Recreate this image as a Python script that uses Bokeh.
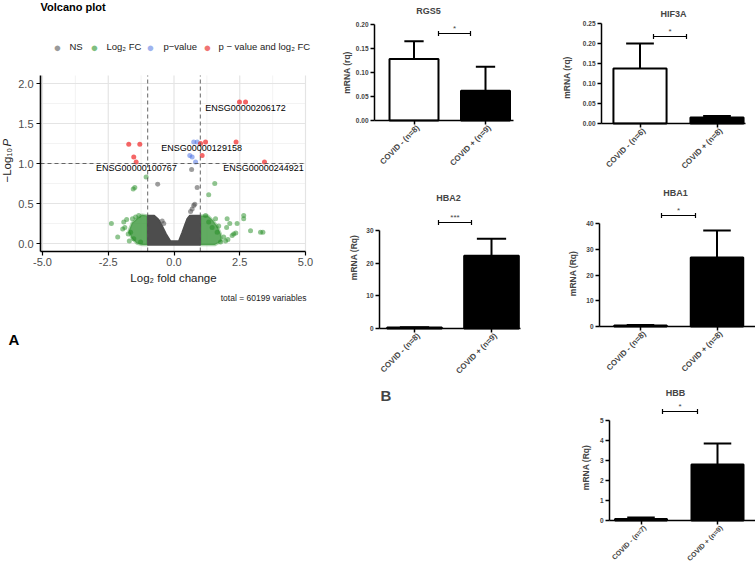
import math
from bokeh.plotting import figure
from bokeh.models import Range1d, FixedTicker, Label, NumeralTickFormatter, ColumnDataSource
from bokeh.layouts import row, column
from bokeh.embed import file_html
from bokeh.resources import INLINE

FONT = "Liberation Sans"

# ---------------- Volcano data (log2 fold change, -log10 P) ----------------
ns_x = [0.67, -0.62, 0.88, 0.79, 0.69, 0.63, 0.75, -0.39, -0.45]
ns_y = [0.925, 0.74, 0.70, 0.49, 0.43, 0.40, 0.475, 0.25, 0.28]
# outline of the dense cloud of non-significant genes
ns_dense_x = [-1.0, -1.0, -0.75, -0.58, -0.45, -0.30, -0.13, 0.18, 0.30, 0.42, 0.50, 0.60, 1.0, 1.0]
ns_dense_y = [-0.02, 0.35, 0.35, 0.30, 0.22, 0.12, 0.03, 0.03, 0.13, 0.24, 0.31, 0.35, 0.35, -0.02]

fc_x = [-2.38, -2.14, -1.91, -1.87, -1.74, -1.65, -1.53, -1.46, -1.34, -1.80, -1.95, -1.70, -1.58,
        -1.06, -1.55, -1.49, -1.27,
        1.55, 1.32, 1.20, 1.58, 2.02, 2.65, 2.65, 2.40, 2.12, 2.91, 3.29, 3.38, 2.27, 2.21, 1.89,
        1.77, 1.96, 1.45, 1.64, 1.32, 2.35, 2.05, 1.70, 2.00]
fc_y = [0.25, 0.08, 0.27, 0.20, 0.12, 0.14, 0.06, 0.33, 0.35, 0.30, 0.18, 0.03, 0.31,
        0.83, 0.68, 0.70, 0.02,
        0.75, 0.61, 0.35, 0.31, 0.31, 0.35, 0.31, 0.25, 0.25, 0.16, 0.14, 0.14, 0.12, 0.10, 0.08,
        0.02, 0.03, 0.20, 0.14, 0.27, 0.13, 0.05, 0.22, 0.20]
fc_dense_left_x = [-1.0, -1.0, -1.22, -1.38, -1.60, -1.72, -1.62, -1.42, -1.20]
fc_dense_left_y = [-0.02, 0.35, 0.36, 0.32, 0.26, 0.16, 0.07, 0.00, -0.02]
fc_dense_right_x = [1.0, 1.0, 1.28, 1.48, 1.66, 1.78, 1.82, 1.55]
fc_dense_right_y = [-0.02, 0.35, 0.35, 0.29, 0.21, 0.12, 0.03, -0.02]

p_x = [0.75, 0.88, 0.60, 0.69, 0.82]
p_y = [1.27, 1.27, 1.10, 1.08, 1.02]

both_x = [2.49, 2.72, -1.72, -1.30, -1.53, -1.44, 1.01, 1.20, 2.36, 1.07, 3.44]
both_y = [1.77, 1.77, 1.24, 1.24, 1.08, 1.02, 1.25, 1.27, 1.27, 1.10, 1.02]

gene_names = ["ENSG00000206172", "ENSG00000129158", "ENSG00000100767", "ENSG00000244921"]
gene_label_x = [2.72, 1.05, -1.43, 3.40]
gene_label_y = [1.69, 1.19, 0.94, 0.94]

volcano_x_ticks = [-5.0, -2.5, 0.0, 2.5, 5.0]
volcano_x_minor = [-3.75, -1.25, 1.25, 3.75]
volcano_y_ticks = [0.0, 0.5, 1.0, 1.5, 2.0]
volcano_y_minor = [0.25, 0.75, 1.25, 1.75]
fc_cutoff = 1.0
p_cutoff = 1.0
total_text = "total = 60199 variables"

# ---------------- Bar chart data ----------------
rgs5_cats = ["COVID - (n=8)", "COVID + (n=9)"]
rgs5_mean = [0.128, 0.062]
rgs5_sem = [0.037, 0.050]
rgs5_ticks = [0.0, 0.05, 0.10, 0.15, 0.20]

hif3a_cats = ["COVID - (n=6)", "COVID + (n=8)"]
hif3a_mean = [0.1375, 0.015]
hif3a_sem = [0.0625, 0.004]
hif3a_ticks = [0.0, 0.05, 0.10, 0.15, 0.20, 0.25]

hba2_cats = ["COVID - (n=8)", "COVID + (n=9)"]
hba2_mean = [0.3, 22.3]
hba2_sem = [0.1, 5.2]
hba2_ticks = [0, 10, 20, 30]

hba1_cats = ["COVID - (n=8)", "COVID + (n=8)"]
hba1_mean = [0.4, 26.8]
hba1_sem = [0.2, 10.5]
hba1_ticks = [0, 10, 20, 30, 40]

hbb_cats = ["COVID - (n=7)", "COVID + (n=9)"]
hbb_mean = [0.08, 2.8]
hbb_sem = [0.07, 1.05]
hbb_ticks = [0, 1, 2, 3, 4, 5]

bar_fills = ["white", "black"]


def base_fig(L, T, W, H, tox, toy):
    """Figure whose frame fills the whole figure; tox/toy map page px -> data."""
    p = figure(frame_width=W, frame_height=H, min_border_left=0, min_border_right=0,
               min_border_top=0, min_border_bottom=0,
               x_range=Range1d(tox(L), tox(L + W)), y_range=Range1d(toy(T + H), toy(T)),
               toolbar_location=None, output_backend="svg", title=None)
    p.outline_line_color = None
    p.grid.grid_line_color = None
    p.background_fill_color = "white"
    p.border_fill_color = "white"
    return p


# ================= Volcano plot =================
VX0, VUX = 173.5, 26.3   # page px of x = 0, px per unit
VY0, VUY = 243.0, 80.0   # page px of y = 0, px per unit


def vx(px):
    return (px - VX0) / VUX


def vy(py):
    return (VY0 - py) / VUY


PL, PR, PT, PB = 40, 305, 75, 251   # panel edges (page px)
pv = base_fig(0, 0, 338, 360, vx, vy)

# panel grid (major + minor)
pv.segment(x0=volcano_x_minor, y0=[vy(PB)] * 4, x1=volcano_x_minor, y1=[vy(PT)] * 4,
           line_color="#f0f0f0", line_width=0.8)
pv.segment(x0=[vx(PL)] * 4, y0=volcano_y_minor, x1=[vx(PR)] * 4, y1=volcano_y_minor,
           line_color="#f0f0f0", line_width=0.8)
pv.segment(x0=volcano_x_ticks, y0=[vy(PB)] * 5, x1=volcano_x_ticks, y1=[vy(PT)] * 5,
           line_color="#e4e4e4", line_width=1.2)
pv.segment(x0=[vx(PL)] * 5, y0=volcano_y_ticks, x1=[vx(PR)] * 5, y1=volcano_y_ticks,
           line_color="#e4e4e4", line_width=1.2)

GREEN = "#228B22"
pv.patch(fc_dense_left_x, fc_dense_left_y, fill_color="#3a963a", fill_alpha=0.8,
         line_color="#3a963a", line_alpha=0.4, line_width=2.5)
pv.patch(fc_dense_right_x, fc_dense_right_y, fill_color="#3a963a", fill_alpha=0.8,
         line_color="#3a963a", line_alpha=0.4, line_width=2.5)
pv.patch(ns_dense_x, ns_dense_y, fill_color="#4d4d4d", line_color="#4d4d4d", line_width=1.5)
pv.scatter(fc_x, fc_y, size=5, fill_color=GREEN, fill_alpha=0.5, line_color=None)
pv.scatter(ns_x, ns_y, size=5, fill_color="#4d4d4d", fill_alpha=0.55, line_color=None)
pv.scatter(p_x, p_y, size=5, fill_color="#4169E1", fill_alpha=0.5, line_color=None)
pv.scatter(both_x, both_y, size=5, fill_color="#EE0000", fill_alpha=0.6, line_color=None)

# cut-off lines
pv.segment(x0=[-fc_cutoff, fc_cutoff], y0=[vy(PB)] * 2, x1=[-fc_cutoff, fc_cutoff], y1=[vy(PT)] * 2,
           line_color="#555555", line_dash="4 3", line_width=0.9)
pv.segment(x0=[vx(PL)], y0=[p_cutoff], x1=[vx(PR)], y1=[p_cutoff],
           line_color="#555555", line_dash="4 3", line_width=0.9)

# axes placed on the panel edges
xt = FixedTicker(ticks=volcano_x_ticks, minor_ticks=[])
yt = FixedTicker(ticks=volcano_y_ticks, minor_ticks=[])
pv.xaxis.ticker = xt
pv.yaxis.ticker = yt
pv.xaxis.fixed_location = vy(PB)
pv.yaxis.fixed_location = vx(PL)
pv.xaxis.bounds = (vx(PL), vx(PR))
pv.yaxis.bounds = (vy(PB), vy(PT))
for ax in (pv.xaxis[0], pv.yaxis[0]):
    ax.axis_line_color = "black"
    ax.axis_line_width = 1.6
    ax.major_tick_line_color = "black"
    ax.major_tick_line_width = 1.2
    ax.major_tick_out = 4
    ax.major_tick_in = 0
    ax.minor_tick_line_color = None
    ax.major_label_text_font = FONT
    ax.major_label_text_font_size = "11px"
    ax.major_label_text_color = "#4d4d4d"
    ax.formatter = NumeralTickFormatter(format="0.0")
pv.xaxis.major_label_standoff = 2
pv.yaxis.major_label_standoff = 3

for name, gxx, gyy in zip(gene_names, gene_label_x, gene_label_y):
    pv.add_layout(Label(x=gxx, y=gyy, text=name, text_font=FONT, text_font_size="9px",
                        text_align="center", text_baseline="middle", text_color="black"))


def vlabel(px, py, text, size, align="left", style="normal", color="black", angle=0.0):
    pv.add_layout(Label(x=vx(px), y=vy(py), text=text, text_font=FONT, text_font_size=size,
                        text_align=align, text_baseline="middle", text_color=color,
                        text_font_style=style, angle=angle))


vlabel(40, 6, "Volcano plot", "11px", style="bold")
legend_items = [("NS", "#9a9a9a", 57, 69), ("Log\u2082 FC", "#7fbf7f", 94, 106),
                ("p\u2212value", "#9fb3ee", 150, 163),
                ("p \u2212 value and log\u2082 FC", "#f07474", 207, 218)]
for txt, col, dxp, txp in legend_items:
    vlabel(dxp, 46.5, "\u25CF", "13px", align="center", color=col)
    vlabel(txp, 46, txt, "9.5px", color="#222222")
vlabel(6, 182, "\u2212Log\u2081\u2080", "11.5px", align="left", angle=math.pi / 2, color="#222222")
vlabel(6, 146, "P", "11.5px", align="left", style="italic", angle=math.pi / 2, color="#222222")
vlabel(173, 277, "Log\u2082 fold change", "11.5px", align="center", color="#222222")
vlabel(306, 297, total_text, "8.5px", align="right", color="#222222")
vlabel(8, 339, "A", "15px", style="bold")


# ================= Bar charts =================
def bar_chart(title, cats, means, sems, ticks, fmt, sig, ylab, g):
    ux, uy = g["ux"], g["uy"]

    def dx(px):
        return (px - g["cx0"]) / ux

    def dy(py):
        return (g["fb"] - py) / uy

    p = base_fig(g["L"], g["T"], g["W"], g["H"], dx, dy)

    xs = list(range(len(cats)))
    src = ColumnDataSource(dict(x=xs, top=means,
                                upper=[m + s for m, s in zip(means, sems)],
                                c0=[x - g["cap"] for x in xs], c1=[x + g["cap"] for x in xs],
                                fill=bar_fills[:len(cats)]))
    p.segment(x0="x", y0="top", x1="x", y1="upper", line_color="black", line_width=2, source=src)
    p.segment(x0="c0", y0="upper", x1="c1", y1="upper", line_color="black", line_width=2, source=src)
    p.vbar(x="x", top="top", bottom=0, width=g["bw"], fill_color="fill", line_color="black",
           line_width=2, source=src)

    # significance bracket
    bx0, bx1, by = g["br"]
    p.segment(x0=[dx(bx0)], y0=[dy(by)], x1=[dx(bx1)], y1=[dy(by)], line_color="black", line_width=1.2)
    p.segment(x0=[dx(bx0), dx(bx1)], y0=[dy(by + 2.5)] * 2, x1=[dx(bx0), dx(bx1)],
              y1=[dy(by - 2.5)] * 2, line_color="black", line_width=1.2)
    p.add_layout(Label(x=dx((bx0 + bx1) / 2), y=dy(by - 1), text=sig, text_font=FONT,
                       text_font_size="8px", text_align="center", text_baseline="bottom"))

    # axes drawn at the plot area's edges
    p.yaxis.ticker = FixedTicker(ticks=ticks, minor_ticks=[])
    p.yaxis.formatter = NumeralTickFormatter(format=fmt)
    p.yaxis.fixed_location = dx(g["axl"])
    p.yaxis.bounds = (ticks[0], ticks[-1])
    p.xaxis.ticker = FixedTicker(ticks=xs, minor_ticks=[])
    p.xaxis.fixed_location = 0
    p.xaxis.bounds = (dx(g["axl"]), dx(g["axr"]))
    p.xaxis.major_label_text_alpha = 0
    p.xaxis.major_label_text_font_size = "1px"
    for ax in (p.xaxis[0], p.yaxis[0]):
        ax.axis_line_color = "black"
        ax.axis_line_width = 1.5
        ax.major_tick_line_color = "black"
        ax.major_tick_line_width = 1.5
        ax.major_tick_out = 4
        ax.major_tick_in = 0
        ax.minor_tick_line_color = None
    p.yaxis.major_label_text_font = FONT
    p.yaxis.major_label_text_font_style = "bold"
    p.yaxis.major_label_text_font_size = "6.5px"
    p.yaxis.major_label_standoff = 2

    cat_size = g.get("cat_size", "8px")
    for i, c in zip(xs, cats):
        p.add_layout(Label(x=i + 4 / ux, y=dy(g["fb"] + 6), text=c, text_font=FONT,
                           text_font_style="bold", text_font_size=cat_size, text_align="right",
                           text_baseline="middle", angle=math.pi / 4))
    tx, ty = g["tpos"]
    p.add_layout(Label(x=dx(tx), y=dy(ty), text=title, text_font=FONT, text_font_style="bold",
                       text_font_size="9px", text_align="center", text_baseline="middle"))
    lx, ly = g["ypos"]
    p.add_layout(Label(x=dx(lx), y=dy(ly), text=ylab, text_font=FONT, text_font_style="bold",
                       text_font_size="8.5px", text_align="center", text_baseline="middle",
                       angle=math.pi / 2))
    if "panel" in g:
        px_, py_, ptxt = g["panel"]
        p.add_layout(Label(x=dx(px_), y=dy(py_), text=ptxt, text_font=FONT, text_font_style="bold",
                           text_font_size="15px", text_align="left", text_baseline="middle"))
    return p


p_rgs5 = bar_chart("RGS5", rgs5_cats, rgs5_mean, rgs5_sem, rgs5_ticks, "0.00", "*", "mRNA (rq)",
                   dict(L=338, T=0, W=215, H=190, axl=374, axr=513, fb=120, cx0=413.5, ux=71.5,
                        uy=480.0, bw=0.685, cap=0.135, br=(438, 470, 33), tpos=(428, 10),
                        ypos=(346, 72)))
p_hba2 = bar_chart("HBA2", hba2_cats, hba2_mean, hba2_sem, hba2_ticks, "0", "***", "mRNA (Rq)",
                   dict(L=338, T=190, W=215, H=215, axl=379, axr=520, fb=328, cx0=414, ux=77,
                        uy=3.267, bw=0.71, cap=0.19, br=(438, 471, 222), tpos=(448, 197),
                        ypos=(353, 257), panel=(380, 395, "B")))
p_hif3a = bar_chart("HIF3A", hif3a_cats, hif3a_mean, hif3a_sem, hif3a_ticks, "0.00", "*", "mRNA (rq)",
                    dict(L=553, T=0, W=202, H=185, axl=601, axr=745, fb=123, cx0=639.5, ux=77,
                         uy=400.0, bw=0.69, cap=0.18, br=(653, 686, 36), tpos=(673, 13),
                         ypos=(566, 77)))
p_hba1 = bar_chart("HBA1", hba1_cats, hba1_mean, hba1_sem, hba1_ticks, "0", "*", "mRNA (Rq)",
                   dict(L=553, T=185, W=202, H=200, axl=599, axr=755, fb=326, cx0=640, ux=76.5,
                        uy=2.575, bw=0.686, cap=0.18, br=(661, 695, 215), tpos=(675, 192),
                        ypos=(572, 273)))
p_hbb = bar_chart("HBB", hbb_cats, hbb_mean, hbb_sem, hbb_ticks, "0", "*", "mRNA (Rq)",
                  dict(L=553, T=385, W=202, H=181, axl=609, axr=755, fb=520, cx0=640.5, ux=76.5,
                       uy=20.0, bw=0.68, cap=0.18, br=(662, 697, 411), tpos=(675, 392),
                       ypos=(585, 467), cat_size="7px"))

layout = row(column(pv, spacing=0),
             column(p_rgs5, p_hba2, spacing=0),
             column(p_hif3a, p_hba1, p_hbb, spacing=0),
             spacing=0)

open("out.html", "w").write(file_html(layout, INLINE))
